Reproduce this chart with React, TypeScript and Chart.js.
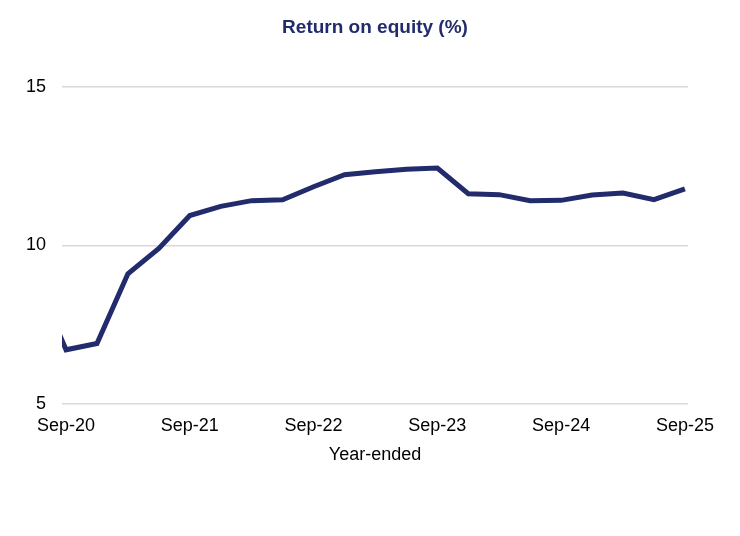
import Chart from "chart.js/auto"
import { useEffect, useRef } from "react"

// quarterly return on equity, year-ended
const quarters = ["Jun-20", "Sep-20", "Dec-20", "Mar-21", "Jun-21", "Sep-21", "Dec-21", "Mar-22", "Jun-22", "Sep-22", "Dec-22", "Mar-23", "Jun-23", "Sep-23", "Dec-23", "Mar-24", "Jun-24", "Sep-24", "Dec-24", "Mar-25", "Jun-25", "Sep-25"]
const roe = [9.0, 6.7, 6.9, 9.1, 9.9, 10.94, 11.23, 11.41, 11.44, 11.85, 12.23, 12.32, 12.4, 12.44, 11.63, 11.6, 11.41, 11.42, 11.59, 11.65, 11.44, 11.78]
const tickLabels = ["Sep-20", "Sep-21", "Sep-22", "Sep-23", "Sep-24", "Sep-25"]
const yTicks = [5, 10, 15]

const NAVY = "#222B6C"
Chart.defaults.font.family = "'Liberation Sans', Arial, sans-serif"
Chart.defaults.font.size = 18
Chart.defaults.color = "#000"

const RoeChart = () => {
    const chartRef = useRef<HTMLCanvasElement>(null)
    useEffect(() => {
        if (!chartRef.current)
            return
        const tickIdx = tickLabels.map(l => quarters.indexOf(l))
        const chart = new Chart(chartRef.current, {
            type: "line",
            data: {
                datasets: [
                    {
                        label: "Return on equity",
                        data: roe.map((v, i) => ({ x: i, y: v })),
                        borderColor: NAVY,
                        borderWidth: 5,
                        pointRadius: 0,
                        tension: 0,
                        fill: false,
                    }
                ]
            },
            options: {
                animation: false,
                responsive: true,
                maintainAspectRatio: false,
                layout: { padding: { top: 0, left: 0, right: 52, bottom: 66.3 } },
                plugins: {
                    legend: { display: false },
                    tooltip: { enabled: false },
                    title: {
                        display: true,
                        text: "Return on equity (%)",
                        color: NAVY,
                        fullSize: false,
                        font: { size: 19, weight: "bold" },
                        padding: { top: 16, bottom: 48.2 },
                    },
                },
                scales: {
                    x: {
                        type: "linear",
                        min: tickIdx[0] - 0.13,
                        max: tickIdx[tickIdx.length - 1] + 0.1,
                        afterBuildTicks: (s: any) => { s.ticks = tickIdx.map(v => ({ value: v })) },
                        grid: { display: false, drawTicks: false },
                        border: { display: false },
                        ticks: {
                            callback: (v: any) => quarters[v],
                            autoSkip: false,
                            maxRotation: 0,
                            padding: 11.2,
                        },
                        title: { display: true, text: "Year-ended", padding: { top: -3.5, bottom: 4 } },
                    },
                    y: {
                        min: 5,
                        max: 15,
                        afterBuildTicks: (s: any) => { s.ticks = yTicks.map(v => ({ value: v })) },
                        afterFit: (s: any) => { s.width = 62 },
                        grid: { color: "#D9D9D9", lineWidth: 1.5, drawTicks: false },
                        border: { display: false },
                        ticks: { padding: 16 },
                    }
                }
            }
        })
        return () => {
            chart.destroy()
        }
    }, [])
    return <div style={{ position: "fixed", left: 0, top: 0, width: 740, height: 536, background: "#fff" }}>
        <canvas ref={chartRef}></canvas>
    </div>
}
export default RoeChart
